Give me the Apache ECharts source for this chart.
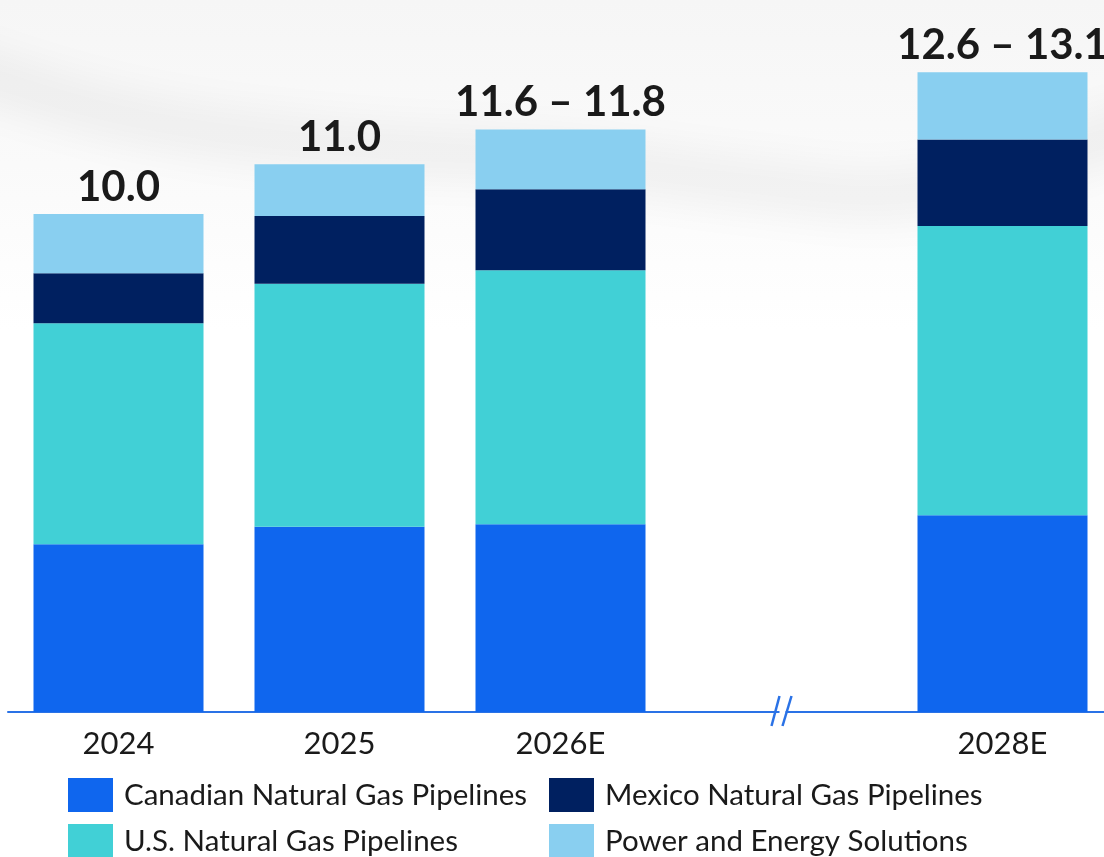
<!DOCTYPE html>
<html>
<head>
<meta charset="utf-8">
<script src="https://cdn.jsdelivr.net/npm/echarts@6/dist/echarts.min.js"></script>
<style>
  html, body { margin: 0; padding: 0; background: #ffffff; }
  #chart { width: 1104px; height: 857px; }
</style>
</head>
<body>
<div id="chart"></div>
<script>
// Segment values (billions) per year; each column sums to its total label
const categories = ['2024', '2025', '2026E', '2028E'];
const totalLabels = ['10.0', '11.0', '11.6 – 11.8', '12.6 – 13.1'];
const canadian = [3.37, 3.72, 3.77, 3.95];
const usGas = [4.44, 4.88, 5.10, 5.81];
const mexico = [1.00, 1.36, 1.63, 1.74];
const power = [1.19, 1.04, 1.20, 1.35];

const seriesNames = [
  'Canadian Natural Gas Pipelines',
  'U.S. Natural Gas Pipelines',
  'Mexico Natural Gas Pipelines',
  'Power and Energy Solutions'
];
const colors = ['#0f66ee', '#41d0d6', '#002060', '#89cff0'];

// An empty slot before the last year leaves room for the axis break mark
const GAP = ' ';
const gapBefore = 3;
function withGap(arr, filler) {
  const out = arr.slice();
  out.splice(gapBefore, 0, filler);
  return out;
}
const axisCats = withGap(categories, GAP);
const labelsWithGap = withGap(totalLabels, '');

const FONT = 'Lato, "Open Sans", sans-serif';
const chart = echarts.init(document.getElementById('chart'), null, { renderer: 'canvas' });

const dataSets = [canadian, usGas, mexico, power];
const series = dataSets.map((vals, i) => ({
  name: seriesNames[i],
  type: 'bar',
  stack: 'total',
  barWidth: 170,
  itemStyle: { color: colors[i] },
  data: withGap(vals, '-'),
  label: i === dataSets.length - 1 ? {
    show: true,
    position: 'top',
    distance: 6,
    formatter: p => labelsWithGap[p.dataIndex],
    fontFamily: FONT,
    fontWeight: 'bold',
    fontSize: 42,
    lineHeight: 42,
    color: '#1a1a1a'
  } : { show: false }
}));

function legendFor(name, left, top) {
  return {
    data: [name],
    left: left,
    top: top,
    orient: 'horizontal',
    icon: 'rect',
    itemWidth: 45,
    itemHeight: 34,
    itemGap: 0,
    padding: 0,
    selectedMode: false,
    textStyle: {
      fontFamily: FONT,
      fontSize: 29.5,
      color: '#1a1a1a',
      padding: [0, 0, 0, 6]
    }
  };
}

// Soft grey swoosh behind the plot: the stroke sits off-canvas and only
// its blurred shadow is shifted back into view.
const SHIFT = 2000;
const hazePoints = [[-60, 60], [120, 115], [330, 145], [560, 160], [760, 185], [900, 195], [1020, 165], [1160, 120]];
const haze = [
  {
    type: 'rect', silent: true, z: -20,
    shape: { x: 0, y: 0, width: 1104, height: 330 },
    style: {
      fill: new echarts.graphic.LinearGradient(0, 0, 0, 1, [
        { offset: 0, color: '#f6f6f6' },
        { offset: 0.5, color: '#fafafa' },
        { offset: 1, color: '#ffffff' }
      ])
    }
  },
  {
    type: 'polyline', silent: true, z: -19,
    shape: { points: hazePoints.map(p => [p[0], p[1] - SHIFT]), smooth: 0.4 },
    style: {
      stroke: '#000000', lineWidth: 40, fill: null,
      shadowColor: 'rgba(0,0,0,0.06)', shadowBlur: 45, shadowOffsetY: SHIFT
    }
  }
];

chart.setOption({
  backgroundColor: '#ffffff',
  animation: false,
  color: colors,
  grid: { left: 8, top: 0, width: 1105, bottom: 145, outerBoundsMode: 'none', containLabel: false },
  xAxis: {
    type: 'category',
    data: axisCats,
    axisLine: { show: true, lineStyle: { color: '#2a72e6', width: 2 } },
    axisTick: { show: false },
    axisLabel: {
      fontFamily: FONT,
      fontSize: 31,
      color: '#1a1a1a',
      margin: 16,
      interval: 0
    }
  },
  yAxis: {
    type: 'value',
    min: 0,
    max: 14.3,
    show: false,
    splitLine: { show: false }
  },
  legend: [
    legendFor(seriesNames[0], 68, 778),
    legendFor(seriesNames[2], 549, 778),
    legendFor(seriesNames[1], 68, 824),
    legendFor(seriesNames[3], 549, 824)
  ],
  series: series
});

// Axis break mark "//" drawn at the empty slot on the category axis
const bx = chart.convertToPixel({ xAxisIndex: 0 }, GAP);
const by = chart.convertToPixel({ yAxisIndex: 0 }, 0);
const slashStyle = { stroke: '#2a72e6', lineWidth: 2.5 };
chart.setOption({
  graphic: haze.concat([
    { type: 'rect', shape: { x: bx - 2, y: by - 3, width: 6, height: 6 }, style: { fill: '#ffffff' }, z: 100 },
    { type: 'line', shape: { x1: bx - 10, y1: by + 14, x2: bx - 2, y2: by - 16 }, style: slashStyle, z: 101 },
    { type: 'line', shape: { x1: bx + 1, y1: by + 14, x2: bx + 10, y2: by - 16 }, style: slashStyle, z: 101 }
  ])
});
</script>
</body>
</html>
